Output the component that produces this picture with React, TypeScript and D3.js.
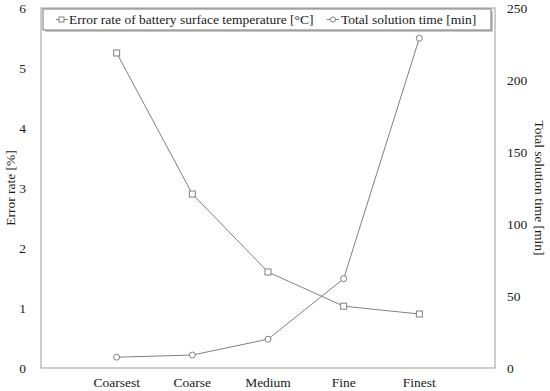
import * as d3 from 'd3'

// mesh levels and the two series
const meshes = ['Coarsest', 'Coarse', 'Medium', 'Fine', 'Finest']
const errorRate = [5.25, 2.9, 1.6, 1.03, 0.9]
const solveTime = [7.5, 9, 20, 62, 229]
const leftTicks = [0, 1, 2, 3, 4, 5, 6]
const rightTicks = [0, 50, 100, 150, 200, 250]

const width = 550, height = 391
const box = { left: 41, right: 495, top: 8, bottom: 368 }
const stroke = '#808080'
const txt = { fontFamily: 'Liberation Serif', fontSize: 13.5, fill: '#1a1a1a' }

const x = d3.scalePoint<string>().domain(meshes).range([box.left, box.right]).padding(1)
const yL = d3.scaleLinear().domain([0, 6]).range([box.bottom, box.top])
const yR = d3.scaleLinear().domain([0, 250]).range([box.bottom, box.top])

const Square = ({ cx, cy }: { cx: number, cy: number }) => (
  <rect x={cx - 3} y={cy - 3} width={6} height={6} fill="white" stroke={stroke} strokeWidth={1} />
)
const Circle = ({ cx, cy }: { cx: number, cy: number }) => (
  <circle cx={cx} cy={cy} r={3} fill="white" stroke={stroke} strokeWidth={1} />
)

export default function App() {
  const errLine = d3.line<number>().x((_, i) => x(meshes[i])!).y(d => yL(d))(errorRate)!
  const timeLine = d3.line<number>().x((_, i) => x(meshes[i])!).y(d => yR(d))(solveTime)!
  const midY = (box.top + box.bottom) / 2

  return (
    <svg width={width} height={height}
      style={{ position: 'absolute', left: 0, top: 0, background: 'white' }}>
      <rect x={box.left} y={box.top} width={box.right - box.left} height={box.bottom - box.top}
        fill="none" stroke="#999" strokeWidth={1} />

      {leftTicks.map(t => (
        <text key={'l' + t} {...txt} x={26} y={yL(t)} dy="0.35em" textAnchor="end">{t}</text>
      ))}
      {rightTicks.map(t => (
        <text key={'r' + t} {...txt} x={507} y={yR(t)} dy="0.35em" textAnchor="start">{t}</text>
      ))}
      {meshes.map(m => (
        <text key={m} {...txt} x={x(m)} y={387} textAnchor="middle">{m}</text>
      ))}

      <text {...txt} transform={`translate(15,${midY}) rotate(-90)`} textAnchor="middle">Error rate [%]</text>
      <text {...txt} transform={`translate(535,${midY}) rotate(90)`} textAnchor="middle">Total solution time [min]</text>

      <path d={errLine} fill="none" stroke={stroke} strokeWidth={1} />
      <path d={timeLine} fill="none" stroke={stroke} strokeWidth={1} />
      {errorRate.map((v, i) => <Square key={'s' + i} cx={x(meshes[i])!} cy={yL(v)} />)}
      {solveTime.map((v, i) => <Circle key={'c' + i} cx={x(meshes[i])!} cy={yR(v)} />)}

      {/* legend with a soft shadow */}
      <rect x={45} y={11} width={448} height={21} fill="#c8c8c8" />
      <rect x={43} y={9} width={448} height={21} fill="white" stroke="#777" strokeWidth={1} />
      <line x1={56} x2={68} y1={19.5} y2={19.5} stroke={stroke} />
      <rect x={59} y={17} width={5} height={5} fill="white" stroke={stroke} />
      <text {...txt} x={69} y={19.5} dy="0.35em">Error rate of battery surface temperature [°C]</text>
      <line x1={327} x2={339} y1={19.5} y2={19.5} stroke={stroke} />
      <circle cx={333} cy={19.5} r={2.6} fill="white" stroke={stroke} />
      <text {...txt} x={341} y={19.5} dy="0.35em">Total solution time [min]</text>
    </svg>
  )
}
